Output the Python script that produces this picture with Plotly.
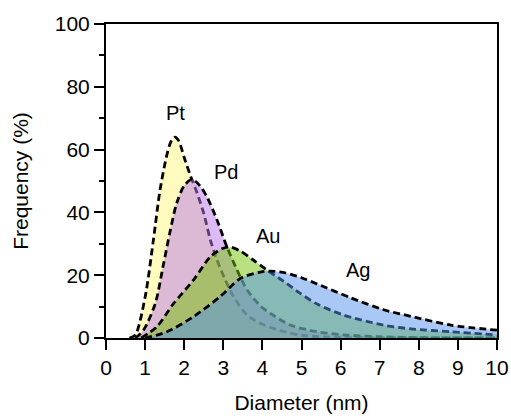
import plotly.graph_objects as go

# Size distributions
pt_x = [0.6, 0.75, 1.0, 1.21, 1.38, 1.56, 1.66, 1.76, 1.86, 2.0, 2.15, 2.32, 2.5, 2.67, 2.84, 3.05, 3.26, 3.61, 4.03, 4.5, 5.05, 6.0, 10.0]
pt_y = [0, 1, 13, 31, 47, 58.5, 62.5, 64.0, 62.8, 57.5, 52.0, 46.5, 39.7, 31.2, 24.8, 18.5, 13.2, 7.3, 4.2, 2.2, 0.8, 0.2, 0]

pd_x = [0.75, 0.96, 1.26, 1.47, 1.64, 1.81, 2.0, 2.2, 2.4, 2.58, 2.84, 3.09, 3.35, 3.61, 3.95, 4.21, 4.72, 5.4, 6.08, 7.0, 8.0, 10.0]
pd_y = [0, 2.5, 11, 23.5, 34, 43, 48.5, 50.5, 48.5, 45, 37.6, 29.1, 21.7, 15.3, 10.2, 7.8, 4.1, 2.0, 1.0, 0.4, 0.1, 0]

au_x = [0.9, 1.3, 1.73, 2.24, 2.67, 3.0, 3.2, 3.45, 3.75, 4.1, 4.55, 4.97, 5.4, 6.08, 7.1, 7.8, 8.82, 10.0]
au_y = [0, 3.6, 11, 18.5, 25.9, 28.6, 28.9, 27.6, 25.0, 21.8, 18.0, 14.2, 10.8, 7.3, 4.1, 2.9, 2.0, 1.0]

ag_x = [1.0, 1.56, 2.24, 2.92, 3.44, 3.95, 4.2, 4.6, 5.0, 5.4, 6.26, 7.1, 7.8, 8.82, 10.0]
ag_y = [0, 2, 6.8, 13.2, 19.0, 21.0, 21.3, 20.7, 19.2, 17.2, 12.8, 9.0, 6.9, 4.1, 2.5]

names = ["Pt", "Pd", "Au", "Ag"]
fills = ["rgba(255,245,125,0.5)", "rgba(185,120,235,0.5)", "rgba(115,195,5,0.5)", "rgba(85,145,235,0.5)"]

label_x = [1.77, 3.06, 4.14, 6.45]
label_y = [71.5, 53.0, 32.5, 21.5]

FONT = "Liberation Sans, Arial"

fig = go.Figure()
for nm, xs, ys, fc in zip(names, [pt_x, pd_x, au_x, ag_x], [pt_y, pd_y, au_y, ag_y], fills):
    fig.add_trace(go.Scatter(
        x=xs, y=ys, name=nm, mode="lines", fill="tozeroy", fillcolor=fc,
        line=dict(color="black", width=2.8, dash="7px,4px", shape="spline", smoothing=0.8),
        showlegend=False, hoverinfo="skip"))

for nm, lx, ly in zip(names, label_x, label_y):
    fig.add_annotation(x=lx, y=ly, text=nm, showarrow=False,
                       font=dict(family=FONT, size=20, color="black"))

axis_common = dict(showline=True, linecolor="black", linewidth=2, mirror=True,
                   ticks="outside", ticklen=10, tickwidth=2, tickcolor="black",
                   showgrid=False, zeroline=False, automargin=False,
                   tickfont=dict(family=FONT, size=21, color="black"),
                   title_font=dict(family=FONT, size=21, color="black"))

fig.update_xaxes(range=[0, 10], dtick=1, title_text="Diameter (nm)", title_standoff=17, **axis_common)
fig.update_yaxes(range=[0, 100], dtick=20, title_text="Frequency (%)", title_standoff=20,
                 minor=dict(dtick=10, ticks="outside", ticklen=5, tickwidth=2, tickcolor="black"),
                 **axis_common)

fig.update_layout(width=511, height=418, margin=dict(l=106, r=14, t=24, b=80),
                  paper_bgcolor="white", plot_bgcolor="white")

fig.write_html("out.html")
